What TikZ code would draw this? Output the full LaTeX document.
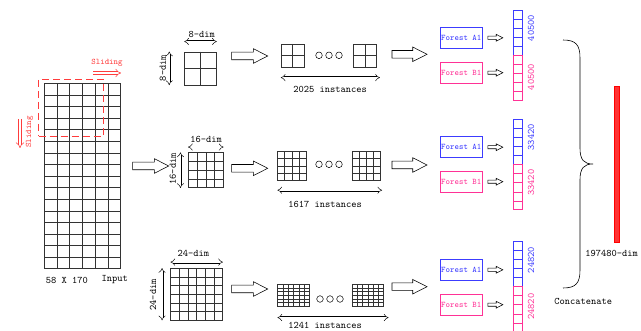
\documentclass[tikz,border=0pt]{standalone}
\usepackage{fontspec}
\usetikzlibrary{arrows.meta,shapes.arrows,calc,positioning}

\definecolor{forestblue}{RGB}{60,60,255}
\definecolor{forestpink}{RGB}{255,50,150}
\definecolor{slidered}{RGB}{255,60,60}

% grid lines inside a named box: [style]{node}{cols}{rows}
\newcommand{\cellgrid}[4][gridline]{%
  \foreach \k in {1,...,#3}{\ifnum\k<#3\relax
    \draw[#1] ($(#2.north west)!\k/#3!(#2.north east)$) -- ($(#2.south west)!\k/#3!(#2.south east)$);\fi}%
  \foreach \k in {1,...,#4}{\ifnum\k<#4\relax
    \draw[#1] ($(#2.north west)!\k/#4!(#2.south west)$) -- ($(#2.north east)!\k/#4!(#2.south east)$);\fi}%
}

\tikzset{
  gridbox/.style={draw=black!80, line width=0.5pt, inner sep=0pt},
  gridline/.style={draw=black!80, line width=0.5pt},
  dimarrow/.style={double, double distance=2pt, line width=0.45pt, {Implies}-{Implies}},
  slidearrow/.style={double, double distance=2.4pt, line width=0.55pt, draw=slidered, -{Implies}},
  blockarrow/.style={single arrow, draw, line width=0.55pt, inner xsep=0pt, inner ysep=3.5pt,
    minimum height=36pt, single arrow head extend=3.5pt, single arrow tip angle=54},
  smallarrow/.style={blockarrow, minimum height=15pt, inner ysep=1.3pt, single arrow head extend=1.8pt},
  forestbox/.style={draw, line width=0.6pt, minimum width=42pt, minimum height=21pt, inner sep=0pt,
    font=\ttfamily\fontsize{8.5}{8.5}\selectfont},
  vecbox/.style={draw, line width=0.6pt, minimum width=9pt, minimum height=45pt, inner sep=0pt},
  lbl/.style={font=\ttfamily\fontsize{10}{10}\selectfont, inner sep=0pt},
  dotnode/.style={draw, circle, minimum size=6.6pt, inner sep=0pt, line width=0.5pt},
}

\begin{document}
\begin{tikzpicture}[x=1pt, y=-1pt]
  \useasboundingbox (0,0) rectangle (641,331);

  % input map and sliding window
  \node[gridbox, minimum width=76pt, minimum height=185pt] (input) at (82.5,176) {};
  \cellgrid{input}{6}{16}
  \node[draw=slidered, line width=0.8pt, dash pattern=on 7pt off 4pt, minimum width=64.6pt,
    minimum height=57pt, inner sep=0pt] (win) at (71,107.5) {};
  \node[lbl, text=slidered, font=\ttfamily\fontsize{8.5}{8.5}\selectfont] (slidetop) at (107,63) {Sliding};
  \coordinate (st1) at (93,73);
  \coordinate (st2) at (121,73);
  \draw[slidearrow] (st1) -- (st2);
  \node[lbl, text=slidered, rotate=90, font=\ttfamily\fontsize{8.5}{8.5}\selectfont] (slideleft) at (29.5,132) {Sliding};
  \coordinate (sl1) at (20,119);
  \coordinate (sl2) at (20,148);
  \draw[slidearrow] (sl1) -- (sl2);
  \node[lbl] (size) at (66.8,280) {58 X 170};
  \node[lbl] (inlbl) at (114.7,280) {Input};
  \node[blockarrow] (toscale) at (147,166) {};

  % 8-dim row
  \node[gridbox, minimum width=32pt, minimum height=33pt] (g8) at (200.5,68.3) {};
  \cellgrid{g8}{2}{2}
  \draw[dimarrow] ([yshift=10pt]g8.north west) -- ([yshift=10pt]g8.north east);
  \draw[dimarrow] ([xshift=-15pt]g8.north west) -- ([xshift=-15pt]g8.south west);
  \node[lbl] (d8h) at (201.7,34.3) {8-dim};
  \node[lbl, rotate=90] (d8v) at (162.7,68) {8-dim};
  \node[blockarrow] (b8a) at (246,56) {};
  \node[gridbox, minimum size=23.3pt] (s8a) at (292.7,55.7) {};
  \cellgrid{s8a}{2}{2}
  \node[gridbox, minimum size=23.3pt] (s8b) at (365,55.7) {};
  \cellgrid{s8b}{2}{2}
  \foreach \x in {319,329,339} \node[dotnode] at (\x,55.3) {};
  \draw[dimarrow] ([yshift=-10pt]s8a.south west) -- ([yshift=-10pt,xshift=3pt]s8b.south east);
  \node[lbl] (n8) at (330,89.3) {2025 instances};
  \node[blockarrow, minimum height=35pt] (b8b) at (405.8,54.3) {};
  \node[forestbox, draw=forestblue, text=forestblue] (fa8) at (461.3,37.8) {Forest A1};
  \node[forestbox, draw=forestpink, text=forestpink] (fb8) at (461.3,72.7) {Forest B1};
  \node[smallarrow, right=5pt of fa8] (pa8) {};
  \node[smallarrow, right=5pt of fb8] (pb8) {};
  \node[vecbox, draw=forestblue] (va8) at (517.8,32.5) {};
  \cellgrid[draw=forestblue, line width=0.5pt]{va8}{1}{5}
  \node[vecbox, draw=forestpink] (vb8) at (517.8,77.8) {};
  \cellgrid[draw=forestpink, line width=0.5pt]{vb8}{1}{5}
  \node[lbl, rotate=90, text=forestblue] at (531,28) {40500};
  \node[lbl, rotate=90, text=forestpink] at (531,77) {40500};

  % 16-dim row
  \node[gridbox, minimum size=35pt] (g16) at (205.8,170.2) {};
  \cellgrid{g16}{4}{4}
  \draw[dimarrow] ([yshift=5.4pt]g16.north west) -- ([yshift=5.4pt]g16.north east);
  \draw[dimarrow] ([xshift=-7.6pt]g16.north west) -- ([xshift=-7.6pt]g16.south west);
  \node[lbl] (d16h) at (206,139.3) {16-dim};
  \node[lbl, rotate=90] (d16v) at (172.7,169) {16-dim};
  \node[blockarrow] (b16a) at (246,168.3) {};
  \node[gridbox, minimum size=28.3pt] (s16a) at (291.8,165.8) {};
  \cellgrid{s16a}{4}{4}
  \node[gridbox, minimum size=28.3pt] (s16b) at (366.2,165.8) {};
  \cellgrid{s16b}{4}{4}
  \foreach \x in {319,329,339} \node[dotnode] at (\x,164.3) {};
  \draw[dimarrow] ([yshift=-10pt]s16a.south west) -- ([yshift=-10pt,xshift=1.5pt]s16b.south east);
  \node[lbl] (n16) at (325,204.3) {1617 instances};
  \node[blockarrow, minimum height=35pt] (b16b) at (405.8,165) {};
  \node[forestbox, draw=forestblue, text=forestblue] (fa16) at (461.3,147.2) {Forest A1};
  \node[forestbox, draw=forestpink, text=forestpink] (fb16) at (461.3,181.7) {Forest B1};
  \node[smallarrow, right=5pt of fa16] (pa16) {};
  \node[smallarrow, right=5pt of fb16] (pb16) {};
  \node[vecbox, draw=forestblue] (va16) at (517.8,141.8) {};
  \cellgrid[draw=forestblue, line width=0.5pt]{va16}{1}{5}
  \node[vecbox, draw=forestpink] (vb16) at (517.8,187.2) {};
  \cellgrid[draw=forestpink, line width=0.5pt]{vb16}{1}{5}
  \node[lbl, rotate=90, text=forestblue] at (531,137.3) {33420};
  \node[lbl, rotate=90, text=forestpink] at (531,182.7) {33420};

  % 24-dim row
  \node[gridbox, minimum width=52pt, minimum height=51.7pt] (g24) at (196.7,294.2) {};
  \cellgrid{g24}{6}{6}
  \draw[dimarrow] ([yshift=6pt]g24.north west) -- ([yshift=6pt]g24.north east);
  \draw[dimarrow] ([xshift=-8.4pt]g24.north west) -- ([xshift=-8.4pt]g24.south west);
  \node[lbl] (d24h) at (193.3,253.3) {24-dim};
  \node[lbl, rotate=90] (d24v) at (153,295) {24-dim};
  \node[blockarrow] (b24a) at (246,289) {};
  \node[gridbox, minimum width=31.6pt, minimum height=21.7pt] (s24a) at (293.5,295.2) {};
  \cellgrid{s24a}{6}{6}
  \node[gridbox, minimum width=31.6pt, minimum height=21.7pt] (s24b) at (367.8,295.2) {};
  \cellgrid{s24b}{6}{6}
  \foreach \x in {320,330,340} \node[dotnode] at (\x,299) {};
  \draw[dimarrow] ([yshift=-11.3pt]s24a.south west) -- ([yshift=-11.3pt,xshift=4.7pt]s24b.south east);
  \node[lbl] (n24) at (325,325.3) {1241 instances};
  \node[blockarrow, minimum height=35pt] (b24b) at (405.8,286.7) {};
  \node[forestbox, draw=forestblue, text=forestblue] (fa24) at (461.3,269.8) {Forest A1};
  \node[forestbox, draw=forestpink, text=forestpink] (fb24) at (461.3,304.7) {Forest B1};
  \node[smallarrow, right=5pt of fa24] (pa24) {};
  \node[smallarrow, right=5pt of fb24] (pb24) {};
  \node[vecbox, draw=forestblue] (va24) at (517.8,263.8) {};
  \cellgrid[draw=forestblue, line width=0.5pt]{va24}{1}{5}
  \node[vecbox, draw=forestpink] (vb24) at (517.8,309.2) {};
  \cellgrid[draw=forestpink, line width=0.5pt]{vb24}{1}{5}
  \node[lbl, rotate=90, text=forestblue] at (531,260) {24820};
  \node[lbl, rotate=90, text=forestpink] at (531,306.7) {24820};

  % concatenation
  \draw[line width=0.6pt] (563,40) .. controls (576,40) and (580,45) .. (580,58)
    -- (580,148) .. controls (580,160) and (584,164) .. (593,164)
    .. controls (584,164) and (580,168) .. (580,180)
    -- (580,270) .. controls (580,283) and (576,288) .. (563,288);
  \node[draw=red, line width=0.8pt, fill=red!80, minimum width=4.7pt, minimum height=156pt,
    inner sep=0pt] (total) at (616.7,164.7) {};
  \node[lbl] (totlbl) at (611.7,253.3) {197480-dim};
  \node[lbl] (concat) at (583.3,301.7) {Concatenate};
\end{tikzpicture}
\end{document}
